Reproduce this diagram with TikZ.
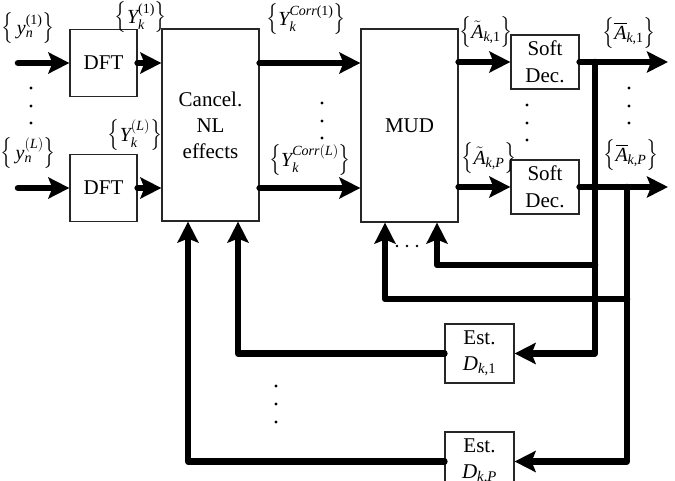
\documentclass[tikz,border=0pt]{standalone}
\usepackage{amsmath}
\usepackage{graphicx}
\usepackage{fontspec}
\setmainfont{Liberation Serif}
\usetikzlibrary{arrows.meta}
\newcommand{\tvar}[1]{\textit{#1}}
\newcommand{\setof}[1]{\mathopen{\scalebox{1}[1.25]{$\bigl\{$}}#1\mathclose{\scalebox{1}[1.25]{$\bigr\}$}}}
\begin{document}
\begin{tikzpicture}[x=1pt,y=-1pt,
  font=\fontsize{21}{26}\selectfont,
  box/.style={draw=black!85, line width=1.2pt, fill=white, inner sep=0pt, align=center},
  sig/.style={line width=6.5pt, line join=round, line cap=round, -{Stealth[length=21pt,width=21pt,inset=4pt]}},
  lbl/.style={font=\fontsize{20}{23}\selectfont, inner sep=0pt},
  dotc/.style={fill=black}]
\useasboundingbox (0,0) rectangle (675,481);
\clip (0,0) rectangle (675,481);

% blocks
\node[box, minimum width=67pt, minimum height=67pt] (dft1) at (103.5,63) {DFT};
\node[box, minimum width=67pt, minimum height=67pt] (dft2) at (103.5,188) {DFT};
\node[box, minimum width=97pt, minimum height=192pt] (cancel) at (210.5,125) {Cancel.\\NL\\effects};
\node[box, minimum width=97pt, minimum height=193pt] (mud) at (409.5,125.5) {MUD};
\node[box, minimum width=68pt, minimum height=54pt, font=\fontsize{21}{27}\selectfont] (sd1) at (545,62) {Soft\\Dec.};
\node[box, minimum width=68pt, minimum height=54pt, font=\fontsize{21}{27}\selectfont] (sd2) at (545,187) {Soft\\Dec.};
\node[box, minimum width=69pt, minimum height=59pt] (est1) at (479.5,353.5) {Est.\\$\tvar{D}_{\tvar{k}\textup{,1}}$};
\node[box, minimum width=69pt, minimum height=59pt] (est2) at (479.5,461.5) {Est.\\$\tvar{D}_{\tvar{k}\textup{,}\tvar{P}}$};

% free ends
\coordinate (in1) at (18,63);
\coordinate (in2) at (18,188);
\coordinate (out1) at (668,62);
\coordinate (out2) at (668,187);
\coordinate (v1) at (595,62);
\coordinate (v2) at (627,187);
\coordinate (b1) at (595,265);
\coordinate (b2) at (627,299);

% forward connectors
\draw[sig] (in1) -- (dft1.west);
\draw[sig] (in2) -- (dft2.west);
\draw[sig] (dft1.east) -- (dft1.east -| cancel.west);
\draw[sig] (dft2.east) -- (dft2.east -| cancel.west);
\draw[sig] (cancel.east |- dft1) -- (mud.west |- dft1);
\draw[sig] (cancel.east |- dft2) -- (mud.west |- dft2);
\draw[sig] (mud.east |- sd1) -- (sd1.west);
\draw[sig] (mud.east |- sd2) -- (sd2.west);
\draw[sig] (sd1.east) -- (out1);
\draw[sig] (sd2.east) -- (out2);

% feedback
\draw[sig] (v1) |- (est1.east);
\draw[sig] (v2) |- (est2.east);
\draw[sig] (b1) -| ([xshift=27.5pt]mud.south);
\draw[sig] (b2) -| ([xshift=-24.5pt]mud.south);
\draw[sig] (est1.west) -| ([xshift=27.5pt]cancel.south);
\draw[sig] (est2.west) -| ([xshift=-22.5pt]cancel.south);

% labels
\node[lbl] (ly1) at (28,28) {$\setof{\,\tvar{y}_{\tvar{n}}^{\textup{(1)}}}$};
\node[lbl] (lyL) at (28,153) {$\setof{\,\tvar{y}_{\tvar{n}}^{(\tvar{L})}}$};
\node[lbl] (lY1) at (141,17) {$\setof{\tvar{Y}_{\tvar{k}}^{\textup{(1)}}}$};
\node[lbl] (lYL) at (135,135) {$\setof{\tvar{Y}_{\tvar{k}}^{(\tvar{L})}}$};
\node[lbl] (lC1) at (306,19) {$\setof{\tvar{Y}_{\tvar{k}}^{\tvar{Corr}\textup{(1)}}}$};
\node[lbl] (lCL) at (310,160) {$\setof{\tvar{Y}_{\tvar{k}}^{\tvar{Corr}(\tvar{L})}}$};
\node[lbl] (lt1) at (486,32) {$\setof{\tilde{\tvar{A}}_{\tvar{k}\textup{,1}}}$};
\node[lbl] (ltP) at (489,158) {$\setof{\tilde{\tvar{A}}_{\tvar{k}\textup{,}\tvar{P}}}$};
\node[lbl] (lb1) at (629,33) {$\setof{\overline{\tvar{A}}_{\tvar{k}\textup{,1}}}$};
\node[lbl] (lbP) at (631,155) {$\setof{\overline{\tvar{A}}_{\tvar{k}\textup{,}\tvar{P}}}$};

% dots
\foreach \y in {88,106,123} \fill[dotc] (31,\y) circle (1.7pt);
\foreach \y in {103,121,138} \fill[dotc] (322,\y) circle (1.7pt);
\foreach \y in {105,123,140} \fill[dotc] (527,\y) circle (1.7pt);
\foreach \y in {88,106,123} \fill[dotc] (629,\y) circle (1.7pt);
\foreach \y in {386,404,422} \fill[dotc] (276,\y) circle (1.7pt);
\foreach \x in {397,407,417} \fill[dotc] (\x,246) circle (1.4pt);
\end{tikzpicture}
\end{document}
